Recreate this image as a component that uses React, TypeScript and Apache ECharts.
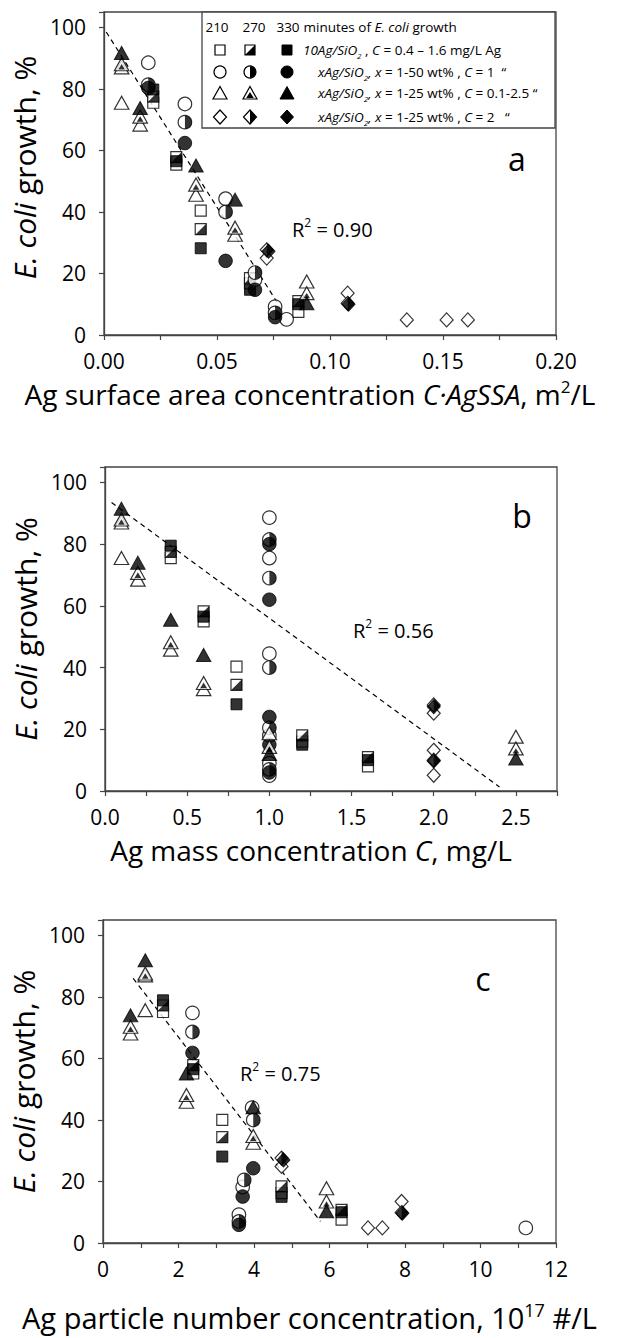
import React, { useEffect, useRef } from 'react';
import * as echarts from 'echarts';

type Pt = [number, number];

// ---------- Panel a: x = C·AgSSA (m²/L), y = E. coli growth (%) ----------
const A_SQUARE_210: Pt[] = [[0.0218, 75.5], [0.032, 55.4], [0.0428, 40.4], [0.0646, 16.8], [0.086, 7.5]];
const A_SQUARE_270: Pt[] = [[0.0218, 77.5], [0.032, 57.8], [0.0428, 34.4], [0.0646, 18.5], [0.086, 11]];
const A_SQUARE_330: Pt[] = [[0.0218, 79.8], [0.032, 56.5], [0.0428, 28.2], [0.0646, 14.7], [0.086, 10]];
const A_CIRCLE_210: Pt[] = [[0.0196, 88.5], [0.0358, 75.1], [0.0538, 44.3], [0.0668, 18], [0.0757, 9.2], [0.0808, 5.1]];
const A_CIRCLE_270: Pt[] = [[0.0196, 81.4], [0.0358, 69.2], [0.0538, 40], [0.0668, 20.3], [0.0757, 7.2]];
const A_CIRCLE_330: Pt[] = [[0.0196, 80.3], [0.0358, 62.4], [0.0538, 24.1], [0.0668, 14.7], [0.0757, 5.8]];
const A_TRIANGLE_210: Pt[] = [[0.0078, 87], [0.0078, 75.5], [0.016, 68.4], [0.0407, 45.6], [0.058, 32.6], [0.0897, 17.4]];
const A_TRIANGLE_270: Pt[] = [[0.0078, 88], [0.016, 71], [0.0407, 48.9], [0.058, 34.9], [0.0897, 13.6]];
const A_TRIANGLE_330: Pt[] = [[0.0078, 91.7], [0.016, 73.8], [0.0407, 55.1], [0.058, 44], [0.0897, 10.3]];
const A_DIAMOND_210: Pt[] = [[0.072, 25], [0.1078, 13.6], [0.134, 4.9], [0.1516, 4.9], [0.161, 4.9]];
const A_DIAMOND_270: Pt[] = [[0.072, 27.7], [0.1078, 10.3]];
const A_DIAMOND_330: Pt[] = [[0.0728, 27.2], [0.1082, 10]];
const A_TREND: Pt[] = [[0.001, 98.5], [0.078, 9]];

// ---------- Panel b: x = C (mg/L) ----------
const B_SQUARE_210: Pt[] = [[0.4, 75.5], [0.6, 55], [0.8, 40.3], [1.2, 16], [1.6, 8]];
const B_SQUARE_270: Pt[] = [[0.4, 77.5], [0.6, 58.2], [0.8, 34.4], [1.2, 18], [1.6, 11]];
const B_SQUARE_330: Pt[] = [[0.4, 79.5], [0.6, 56.5], [0.8, 28.1], [1.2, 15], [1.6, 10]];
const B_CIRCLE_210: Pt[] = [[1, 88.6], [1, 75.5], [1, 44.5], [1, 18], [1, 9], [1, 5]];
const B_CIRCLE_270: Pt[] = [[1, 81.5], [1, 69], [1, 40], [1, 20.5], [1, 7]];
const B_CIRCLE_330: Pt[] = [[1, 80], [1, 62], [1, 24], [1, 15], [1, 6]];
const B_TRIANGLE_210: Pt[] = [[0.1, 87], [0.1, 75.5], [0.2, 68.5], [0.4, 45.8], [0.6, 33], [1, 18.7], [2.5, 17.6]];
const B_TRIANGLE_270: Pt[] = [[0.1, 88], [0.2, 70.7], [0.4, 48.2], [0.6, 35], [1, 14.3], [2.5, 13.8]];
const B_TRIANGLE_330: Pt[] = [[0.1, 91.5], [0.2, 74], [0.4, 55.5], [0.6, 44.1], [1, 12], [2.5, 10.5]];
const B_DIAMOND_210: Pt[] = [[2, 25.2], [2, 13.2], [2, 5.1]];
const B_DIAMOND_270: Pt[] = [[2, 27.9], [2, 10]];
const B_DIAMOND_330: Pt[] = [[2, 27.3], [2, 9.7]];
const B_TREND: Pt[] = [[0.04, 93.5], [2.4, 1.3]];

// ---------- Panel c: x = particle number (10^17 #/L) ----------
const C_SQUARE_210: Pt[] = [[1.59, 75.1], [2.39, 55.1], [3.16, 40], [4.73, 16.2], [6.32, 7.6]];
const C_SQUARE_270: Pt[] = [[1.59, 77.2], [2.39, 57.8], [3.16, 34.4], [4.73, 18.4], [6.32, 10.8]];
const C_SQUARE_330: Pt[] = [[1.59, 78.9], [2.39, 56.5], [3.16, 28.1], [4.73, 15], [6.32, 10]];
const C_CIRCLE_210: Pt[] = [[2.37, 74.8], [3.95, 44], [3.7, 18.2], [3.6, 9.2], [11.2, 4.9]];
const C_CIRCLE_270: Pt[] = [[2.37, 68.6], [3.98, 40], [3.74, 20.5], [3.6, 7]];
const C_CIRCLE_330: Pt[] = [[2.37, 61.8], [3.98, 24.3], [3.7, 15.1], [3.6, 5.9]];
const C_TRIANGLE_210: Pt[] = [[1.12, 87], [1.12, 75.7], [0.73, 68.1], [2.21, 45.9], [3.98, 32.6], [5.92, 17.8]];
const C_TRIANGLE_270: Pt[] = [[1.12, 87.6], [0.73, 70.3], [2.21, 48.1], [3.98, 34.8], [5.92, 13.5]];
const C_TRIANGLE_330: Pt[] = [[1.12, 91.9], [0.73, 74], [2.21, 55.1], [3.98, 44.1], [5.92, 10.3]];
const C_DIAMOND_210: Pt[] = [[4.73, 24.9], [7.91, 13.5], [7.02, 4.9], [7.4, 4.9]];
const C_DIAMOND_270: Pt[] = [[4.73, 27.6], [7.91, 9.9]];
const C_DIAMOND_330: Pt[] = [[4.78, 27], [7.93, 9.7]];
const C_TREND: Pt[] = [[0.8, 86], [5.76, 7]];

// ---------- Texts ----------
const Y_TITLE = '{i|E. coli}{n| growth, %}';
const X_TITLES = [
  '{n|Ag surface area concentration }{i|C·AgSSA}{n|, m}{sup|2}{n|/L}',
  '{n|Ag mass concentration }{i|C}{n|, mg/L}',
  '{n|Ag particle number concentration, 10}{sup|17}{n| #/L}',
];
const R2_LABELS = ['{n|R}{sup|2}{n| = 0.90}', '{n|R}{sup|2}{n| = 0.56}', '{n|R}{sup|2}{n| = 0.75}'];
const PANEL_LETTERS = ['a', 'b', 'c'];
const LEGEND_TIMES = ['210', '270', '330'];
const LEGEND_HEADER_TAIL = '{n| minutes of }{i|E. coli}{n| growth}';
const LEGEND_ROWS = [
  '{i|10Ag/SiO}{isub|2}{n| , }{i|C}{n| = 0.4 – 1.6 mg/L Ag}',
  '{i|xAg/SiO}{isub|2}{i|, x}{n| = 1-50 wt% , }{i|C}{n| = 1  “}',
  '{i|xAg/SiO}{isub|2}{i|, x}{n| = 1-25 wt% , }{i|C}{n| = 0.1-2.5 “}',
  '{i|xAg/SiO}{isub|2}{i|, x}{n| = 1-25 wt% , }{i|C}{n| = 2   “}',
];

const FONT = '"Open Sans", "Noto Sans", "DejaVu Sans", sans-serif';
const AX = '#444';

function rich(size: number, lhFactor = 1.3) {
  const lh = Math.round(size * lhFactor);
  const small = Math.round(size * 0.62);
  const base = { fontFamily: FONT, color: '#000', fill: '#000' };
  return {
    n: { ...base, fontSize: size, lineHeight: lh },
    i: { ...base, fontSize: size, lineHeight: lh, fontStyle: 'italic' },
    sup: { ...base, fontSize: small, lineHeight: small + 2, verticalAlign: 'top' },
    sub: { ...base, fontSize: small, lineHeight: small + 2, verticalAlign: 'bottom' },
    isub: { ...base, fontSize: small, lineHeight: small + 2, verticalAlign: 'bottom', fontStyle: 'italic' },
  };
}

const SHAPES: Record<string, { sym: string; half: string; size: number | number[] }> = {
  square: { sym: 'rect', half: 'path://M1,0L1,1L0,1Z', size: [11, 11] },
  circle: { sym: 'circle', half: 'path://M0,0L0,0M0.5,0A0.5,0.5,0,0,1,0.5,1Z', size: 13.5 },
  triangle: { sym: 'triangle', half: 'path://M0,0L0,0M1,1L1,1M0.5,0.48L0.73,0.9L0.27,0.9Z', size: [14.5, 13] },
  diamond: { sym: 'diamond', half: 'path://M0,0L0,0M0.5,0L1,0.5L0.5,1Z', size: [13, 14] },
};

function markerSeries(panel: number, shape: string, open: Pt[], half: Pt[], full: Pt[]) {
  const s = SHAPES[shape];
  const base = {
    type: 'scatter', xAxisIndex: panel, yAxisIndex: panel, silent: true, z: 3,
    symbol: s.sym, symbolSize: s.size, emphasis: { disabled: true },
  };
  return [
    { ...base, data: open, itemStyle: { color: '#fff', borderColor: '#000', borderWidth: 1.2 } },
    { ...base, data: half, itemStyle: { color: '#fff', borderColor: '#000', borderWidth: 1.2 } },
    { ...base, data: half, symbol: s.half, itemStyle: { color: '#000', borderWidth: 0 } },
    { ...base, data: full, itemStyle: { color: '#000', borderColor: '#000', borderWidth: 1 } },
  ];
}

function trendSeries(panel: number, data: Pt[]) {
  return {
    type: 'line', xAxisIndex: panel, yAxisIndex: panel, data, symbol: 'none', silent: true, z: 2,
    lineStyle: { color: '#000', width: 1.2, type: [5, 4] },
  };
}

const GRIDS = [
  { left: 104, top: 12, width: 452, height: 323 },
  { left: 105, top: 467, width: 452, height: 324 },
  { left: 103, top: 920, width: 453, height: 323 },
];

const X_RANGES = [
  { max: 0.2, interval: 0.025, step: 0.05, dec: 2 },
  { max: 2.75, interval: 0.25, step: 0.5, dec: 1 },
  { max: 12, interval: 1, step: 2, dec: 0 },
];
const X_TITLE_SIZE = [28, 28, 29];
const X_TITLE_GAP = [43, 43, 58];

function txt(x: number, y: number, text: string, size: number, align = 'left', extra: any = {}) {
  return {
    type: 'text', x, y, z: 100,
    style: {
      text, rich: rich(size), fontFamily: FONT, fontSize: size, fill: '#000',
      textAlign: align, align, textVerticalAlign: 'middle', verticalAlign: 'middle', ...extra,
    },
  };
}

function legendGraphics() {
  const els: any[] = [];
  els.push({ type: 'rect', z: 90, shape: { x: 202, y: 12, width: 353, height: 116 }, style: { fill: '#fff', stroke: AX, lineWidth: 1.3 } });
  const hx = [217, 254, 288];
  LEGEND_TIMES.forEach((t, k) => els.push(txt(hx[k], 27, `{n|${t}}`, 13.5, 'center')));
  els.push(txt(300, 27, LEGEND_HEADER_TAIL, 13.5, 'left'));
  const mx = [220, 250, 287];
  const my = [50, 72, 93, 117];
  const open = { fill: '#fff', stroke: '#000', lineWidth: 1.2 };
  const black = { fill: '#000', stroke: '#000', lineWidth: 1 };
  // squares
  mx.forEach((x, k) => {
    els.push({ type: 'rect', z: 95, shape: { x: x - 5, y: my[0] - 5, width: 10, height: 10 }, style: k === 2 ? black : open });
  });
  els.push({ type: 'polygon', z: 96, shape: { points: [[mx[1] + 5, my[0] - 5], [mx[1] + 5, my[0] + 5], [mx[1] - 5, my[0] + 5]] }, style: { fill: '#000' } });
  // circles
  mx.forEach((x, k) => {
    els.push({ type: 'circle', z: 95, shape: { cx: x, cy: my[1], r: 6 }, style: k === 2 ? black : open });
  });
  els.push({ type: 'sector', z: 96, shape: { cx: mx[1], cy: my[1], r: 6, r0: 0, startAngle: -Math.PI / 2, endAngle: Math.PI / 2, clockwise: true }, style: { fill: '#000' } });
  // triangles
  mx.forEach((x, k) => {
    const y = my[2];
    els.push({ type: 'polygon', z: 95, shape: { points: [[x, y - 6.5], [x + 7, y + 6], [x - 7, y + 6]] }, style: k === 2 ? black : open });
  });
  els.push({ type: 'polygon', z: 96, shape: { points: [[mx[1], my[2] - 1], [mx[1] + 3.8, my[2] + 5], [mx[1] - 3.8, my[2] + 5]] }, style: { fill: '#000' } });
  // diamonds
  mx.forEach((x, k) => {
    const y = my[3];
    els.push({ type: 'polygon', z: 95, shape: { points: [[x, y - 7], [x + 6.5, y], [x, y + 7], [x - 6.5, y]] }, style: k === 2 ? black : open });
  });
  els.push({ type: 'polygon', z: 96, shape: { points: [[mx[1], my[3] - 7], [mx[1] + 6.5, my[3]], [mx[1], my[3] + 7]] }, style: { fill: '#000' } });
  const rx = [303, 318, 318, 318];
  LEGEND_ROWS.forEach((r, k) => els.push(txt(rx[k], my[k], r, 13.5, 'left')));
  return els;
}

export default function App() {
  const ref = useRef<HTMLDivElement>(null);
  useEffect(() => {
    if (!ref.current) return;
    const chart = echarts.init(ref.current, undefined, { renderer: 'svg' });

    const xAxis = GRIDS.map((_, i) => {
      const r = X_RANGES[i];
      return {
        type: 'value', gridIndex: i, min: 0, max: r.max, interval: r.interval,
        splitLine: { show: false },
        axisLine: { show: true, onZero: false, lineStyle: { color: AX, width: 1.3 } },
        axisTick: { show: true, inside: false, length: 5, lineStyle: { color: AX, width: 1.2 } },
        axisLabel: {
          fontFamily: FONT, fontSize: 21, color: '#000', margin: 15,
          formatter: (v: number) => {
            const q = v / r.step;
            return Math.abs(q - Math.round(q)) < 1e-6 ? v.toFixed(r.dec) : '';
          },
        },
        name: X_TITLES[i], nameLocation: 'middle', nameGap: X_TITLE_GAP[i],
        nameTextStyle: { rich: rich(X_TITLE_SIZE[i], 1.15), fontFamily: FONT, fontSize: X_TITLE_SIZE[i], padding: [0, 40, 0, 0] },
      };
    });
    const yAxis = GRIDS.map((_, i) => ({
      type: 'value', gridIndex: i, min: 0, max: 105, interval: 20,
      splitLine: { show: false },
      axisLine: { show: true, lineStyle: { color: AX, width: 1.3 } },
      axisTick: { show: true, inside: false, length: 5, lineStyle: { color: AX, width: 1.2 } },
      axisLabel: {
        fontFamily: FONT, fontSize: 21, lineHeight: 20, color: '#000', margin: 18,
        formatter: (v: number) => (v % 20 === 0 ? String(v) : ''),
      },
      name: Y_TITLE, nameLocation: 'middle', nameGap: 52,
      nameTextStyle: { rich: rich(30), fontFamily: FONT, fontSize: 30, padding: [0, 0, 0, i === 0 ? 12 : 0] },
    }));

    const series: any[] = [
      trendSeries(0, A_TREND),
      ...markerSeries(0, 'square', A_SQUARE_210, A_SQUARE_270, A_SQUARE_330),
      ...markerSeries(0, 'circle', A_CIRCLE_210, A_CIRCLE_270, A_CIRCLE_330),
      ...markerSeries(0, 'triangle', A_TRIANGLE_210, A_TRIANGLE_270, A_TRIANGLE_330),
      ...markerSeries(0, 'diamond', A_DIAMOND_210, A_DIAMOND_270, A_DIAMOND_330),
      trendSeries(1, B_TREND),
      ...markerSeries(1, 'square', B_SQUARE_210, B_SQUARE_270, B_SQUARE_330),
      ...markerSeries(1, 'circle', B_CIRCLE_210, B_CIRCLE_270, B_CIRCLE_330),
      ...markerSeries(1, 'triangle', B_TRIANGLE_210, B_TRIANGLE_270, B_TRIANGLE_330),
      ...markerSeries(1, 'diamond', B_DIAMOND_210, B_DIAMOND_270, B_DIAMOND_330),
      trendSeries(2, C_TREND),
      ...markerSeries(2, 'square', C_SQUARE_210, C_SQUARE_270, C_SQUARE_330),
      ...markerSeries(2, 'circle', C_CIRCLE_210, C_CIRCLE_270, C_CIRCLE_330),
      ...markerSeries(2, 'triangle', C_TRIANGLE_210, C_TRIANGLE_270, C_TRIANGLE_330),
      ...markerSeries(2, 'diamond', C_DIAMOND_210, C_DIAMOND_270, C_DIAMOND_330),
    ];

    const letterPos = [[517, 158], [522, 515], [483, 978]];
    const r2Pos = [[292, 229], [353, 630], [240, 1073]];
    const graphic: any[] = [
      ...legendGraphics(),
      ...PANEL_LETTERS.map((l, i) => txt(letterPos[i][0], letterPos[i][1], `{n|${l}}`, 32, 'center')),
      ...R2_LABELS.map((t, i) => txt(r2Pos[i][0], r2Pos[i][1], t, 20, 'left')),
    ];

    chart.setOption({
      animation: false,
      backgroundColor: '#fff',
      grid: GRIDS.map((g) => ({ ...g, show: true, borderColor: AX, borderWidth: 1.3, backgroundColor: 'transparent', containLabel: false })),
      xAxis,
      yAxis,
      series,
      graphic,
    });
    return () => chart.dispose();
  }, []);

  return <div ref={ref} style={{ position: 'absolute', left: 0, top: 0, width: 617, height: 1338, background: '#fff' }} />;
}
